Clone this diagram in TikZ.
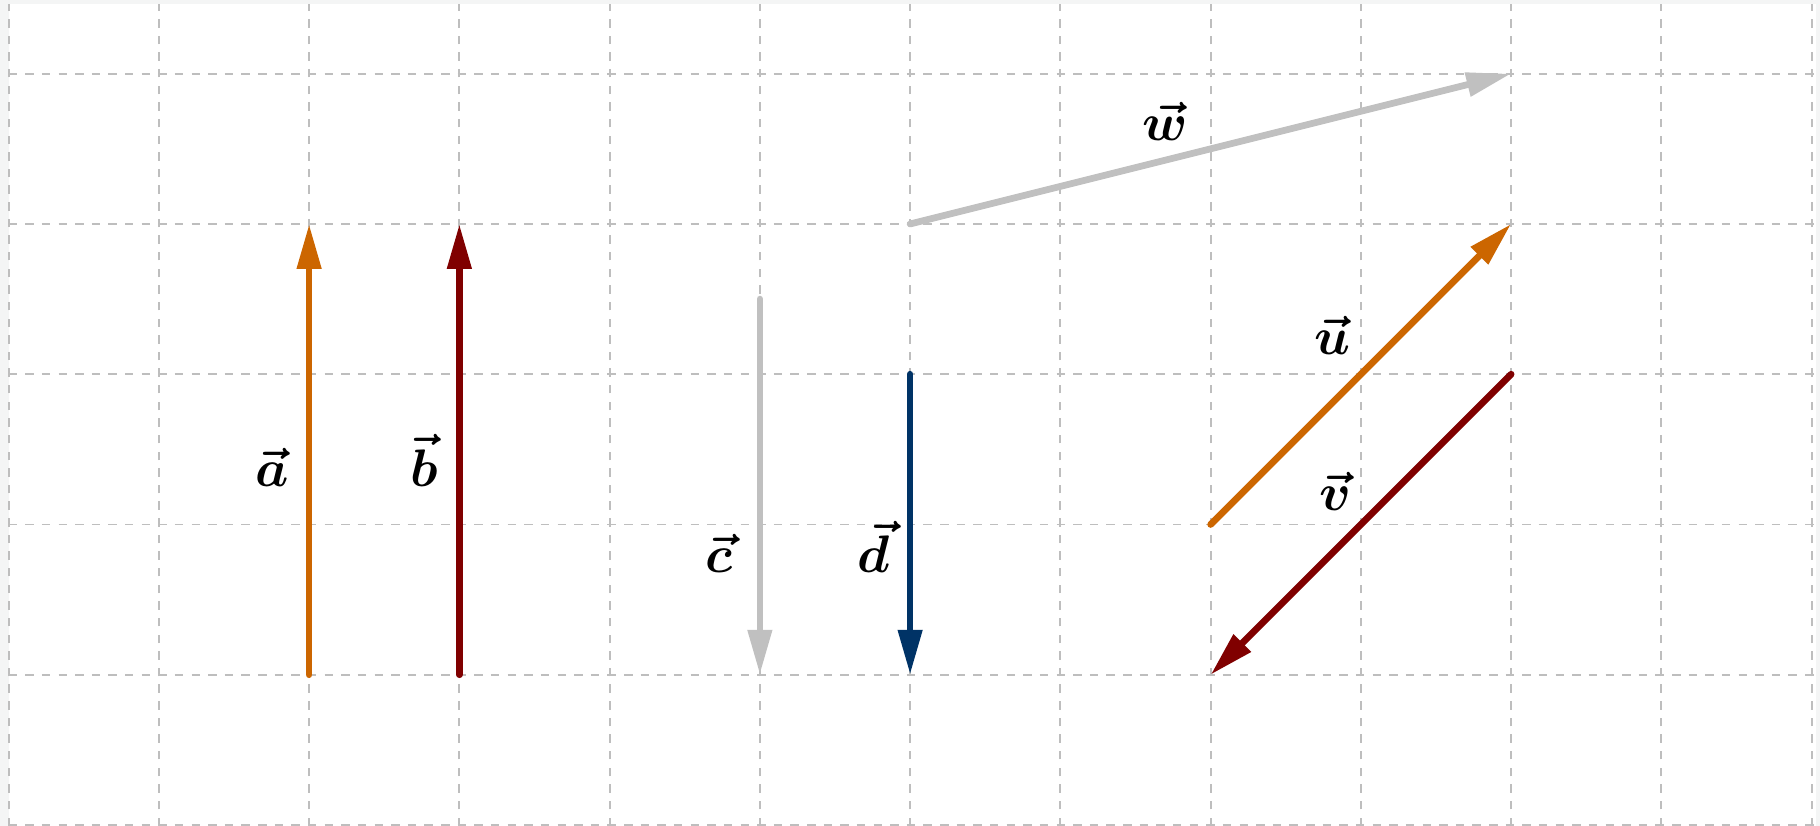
\documentclass[tikz,border=0pt]{standalone}
\usepackage{bm}
\usetikzlibrary{arrows.meta}
\definecolor{vorange}{RGB}{204,102,0}
\definecolor{vred}{RGB}{128,0,0}
\definecolor{vgray}{RGB}{192,192,192}
\definecolor{vblue}{RGB}{0,51,102}
\definecolor{gridc}{RGB}{190,190,190}
\definecolor{pagebg}{RGB}{244,245,245}
\begin{document}
\begin{tikzpicture}[
  vec/.style={line width=1.27pt, line cap=round, -{Triangle[length=8.5pt,width=4.4pt]}},
  lbl/.style={anchor=base, inner sep=0pt, font=\fontsize{10}{12}\selectfont},
  gridline/.style={gridc, line width=0.35pt, dash pattern=on 1.6pt off 1.55pt}
]
\useasboundingbox (-0.0572,-0.0067) rectangle (12.0559,5.4908);
\fill[pagebg] (-0.0572,-0.0067) rectangle (12.0559,5.4908);
\fill[white] (0,-0.0067) rectangle (12.029,5.464);
\foreach \x in {0,...,12} \draw[gridline] (\x,-0.0067) -- (\x,5.464);
\foreach \y in {0,...,5} \draw[gridline] (0,\y) -- (12.029,\y);

\coordinate (a0) at (2,1);   \coordinate (a1) at (2,4);
\coordinate (b0) at (3,1);   \coordinate (b1) at (3,4);
\coordinate (c0) at (5,3.5); \coordinate (c1) at (5,1);
\coordinate (d0) at (6,3);   \coordinate (d1) at (6,1);
\coordinate (w0) at (6,4);   \coordinate (w1) at (10,5);
\coordinate (u0) at (8,2);   \coordinate (u1) at (10,4);
\coordinate (v0) at (10,3);  \coordinate (v1) at (8,1);

\draw[vec, vorange] (a0) -- (a1);
\draw[vec, vred]    (b0) -- (b1);
\draw[vec, vgray]   (c0) -- (c1);
\draw[vec, vblue]   (d0) -- (d1);
\draw[vec, vgray]   (w0) -- (w1);
\draw[vec, vorange] (u0) -- (u1);
\draw[vec, vred]    (v0) -- (v1);

\node[lbl] (la) at (1.755,2.255) {$\bm{\vec{a}}$};
\node[lbl] (lb) at (2.765,2.255) {$\bm{\vec{b}}$};
\node[lbl] (lc) at (4.73,1.68) {$\bm{\vec{c}}$};
\node[lbl] (ld) at (5.755,1.68) {$\bm{\vec{d}}$};
\node[lbl] (lw) at (7.695,4.556) {$\bm{\vec{w}}$};
\node[lbl] (lu) at (8.81,3.13) {$\bm{\vec{u}}$};
\node[lbl] (lv) at (8.83,2.094) {$\bm{\vec{v}}$};
\end{tikzpicture}
\end{document}
